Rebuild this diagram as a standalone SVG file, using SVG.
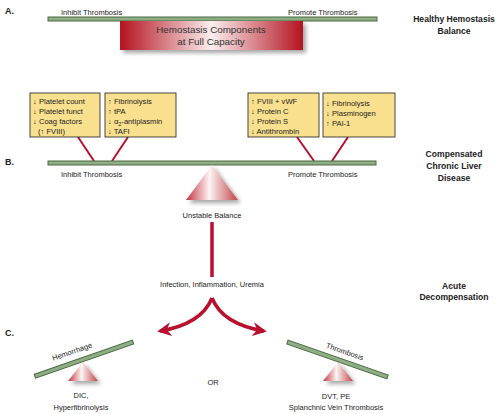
<svg xmlns="http://www.w3.org/2000/svg" width="500" height="414" viewBox="0 0 500 414">
<defs>
<linearGradient id="redbox" x1="0" y1="0" x2="1" y2="0">
<stop offset="0" stop-color="#b3121f"/>
<stop offset="0.5" stop-color="#fbeeee"/>
<stop offset="1" stop-color="#b3121f"/>
</linearGradient>
<linearGradient id="tri" x1="0" y1="0" x2="1" y2="0">
<stop offset="0" stop-color="#c2343c"/>
<stop offset="0.45" stop-color="#fdf4f4"/>
<stop offset="1" stop-color="#c0454a"/>
</linearGradient>
<filter id="sh" x="-20%" y="-20%" width="150%" height="160%">
<feGaussianBlur in="SourceAlpha" stdDeviation="2"/>
<feOffset dx="3" dy="3" result="b"/>
<feComponentTransfer><feFuncA type="linear" slope="0.35"/></feComponentTransfer>
<feMerge><feMergeNode/><feMergeNode in="SourceGraphic"/></feMerge>
</filter>
<marker id="ah" viewBox="0 0 10 10" refX="8" refY="5" markerWidth="4" markerHeight="4" orient="auto" markerUnits="strokeWidth">
<path d="M0,0 L10,5 L0,10 L3,5 Z" fill="#b8102e"/>
</marker>
</defs>
<style>
text{font-family:"Liberation Sans","DejaVu Sans",Arial,sans-serif;fill:#222;}
.s{font-size:7.5px;}
.m{font-size:9.8px;fill:#333;}
.h{font-size:8.6px;font-weight:bold;text-anchor:middle;}
.l{font-size:9px;font-weight:bold;}
.c{text-anchor:middle;}
.bar{fill:#8fae86;stroke:#4a6a43;stroke-width:1;}
.box{fill:#f9e08e;stroke:#333;stroke-width:0.9;}
.bt{font-size:7.6px;}
.leg{stroke:#b8102e;stroke-width:2;fill:none;}
.red{stroke:#b8102e;stroke-width:3.5;fill:none;}
.tri{fill:url(#tri);}
</style>
<rect width="500" height="414" fill="#fff"/>

<g id="labels">
<text class="l" x="5" y="14">A.</text>
<text class="l" x="5" y="165">B.</text>
<text class="l" x="5" y="336">C.</text>
<text class="h" x="454" y="22">Healthy Hemostasis</text>
<text class="h" x="454" y="34">Balance</text>
<text class="h" x="454" y="157">Compensated</text>
<text class="h" x="454" y="169">Chronic Liver</text>
<text class="h" x="454" y="181">Disease</text>
<text class="h" x="454" y="289">Acute</text>
<text class="h" x="454" y="300">Decompensation</text>
</g>

<g id="sectionA">
<rect class="bar" x="48" y="17" width="329" height="4"/>
<text class="s" x="61" y="14.5">Inhibit Thrombosis</text>
<text class="s" x="288" y="14.5">Promote Thrombosis</text>
<g id="fullcap" filter="url(#sh)">
<rect x="120" y="21" width="183" height="29" fill="url(#redbox)"/>
</g>
<text class="m c" x="211" y="33">Hemostasis Components</text>
<text class="m c" x="211" y="45">at Full Capacity</text>
</g>

<g id="connectors">
<line class="leg" x1="78" y1="137" x2="94" y2="161"/>
<line class="leg" x1="128" y1="137" x2="112" y2="161"/>
<line class="leg" x1="297" y1="137" x2="314" y2="161"/>
<line class="leg" x1="348" y1="137" x2="332" y2="161"/>
<line class="red" x1="212" y1="222" x2="212" y2="277" stroke-width="3"/>
<path class="red" d="M212,298 C206,313 190,326 160,331" marker-end="url(#ah)"/>
<path class="red" d="M212,298 C218,313 234,326 264,331" marker-end="url(#ah)"/>
</g>

<g id="box1">
<rect class="box" x="30" y="93" width="70" height="44"/>
<text class="bt" x="33" y="104">↓ Platelet count</text>
<text class="bt" x="33" y="114">↓ Platelet funct</text>
<text class="bt" x="33" y="124">↓ Coag factors</text>
<text class="bt" x="38" y="134">(↑ FVIII)</text>
</g>
<g id="box2">
<rect class="box" x="105" y="93" width="71" height="44"/>
<text class="bt" x="108" y="104">↑ Fibrinolysis</text>
<text class="bt" x="108" y="114">↑ tPA</text>
<text class="bt" x="108" y="124">↓ α<tspan font-size="5.5" dy="1.8">2</tspan><tspan dy="-1.8">-antiplasmin</tspan></text>
<text class="bt" x="108" y="134">↓ TAFI</text>
</g>
<g id="box3">
<rect class="box" x="248" y="93" width="71" height="44"/>
<text class="bt" x="251" y="104">↑ FVIII + vWF</text>
<text class="bt" x="251" y="114">↓ Protein C</text>
<text class="bt" x="251" y="124">↓ Protein S</text>
<text class="bt" x="251" y="134">↓ Antithrombin</text>
</g>
<g id="box4">
<rect class="box" x="323" y="93" width="72" height="44"/>
<text class="bt" x="326" y="106">↓ Fibrinolysis</text>
<text class="bt" x="326" y="116">↓ Plasminogen</text>
<text class="bt" x="326" y="126">↑ PAI-1</text>
</g>

<g id="sectionB">
<rect class="bar" x="48" y="161" width="328" height="4"/>
<text class="s" x="61" y="177">Inhibit Thrombosis</text>
<text class="s" x="288" y="177">Promote Thrombosis</text>
<g filter="url(#sh)"><polygon class="tri" points="212,165 238,200 186,200"/></g>
<text class="s c" x="212" y="218">Unstable Balance</text>
<text class="s c" x="212" y="287">Infection, Inflammation, Uremia</text>
</g>

<g id="hemorrhage">
<g filter="url(#sh)"><polygon class="tri" points="83,362 98,381 68,381"/></g>
<rect class="bar" x="-51" y="-2" width="104" height="4" transform="translate(83,359.5) rotate(-19.2)"/>
<text class="s c" transform="translate(73,354) rotate(-19.2)">Hemorrhage</text>
<text class="s c" x="81" y="398">DIC,</text>
<text class="s c" x="81" y="410">Hyperfibrinolysis</text>
</g>

<text id="or" class="s c" x="213" y="385">OR</text>

<g id="thrombosis">
<g filter="url(#sh)"><polygon class="tri" points="338,362 353,381 323,381"/></g>
<rect class="bar" x="-53" y="-2" width="106" height="4" transform="translate(337.5,359.5) rotate(19.2)"/>
<text class="s c" transform="translate(344,354) rotate(19.2)">Thrombosis</text>
<text class="s c" x="336" y="399">DVT, PE</text>
<text class="s c" x="336" y="410">Splanchnic Vein Thrombosis</text>
</g>
</svg>
